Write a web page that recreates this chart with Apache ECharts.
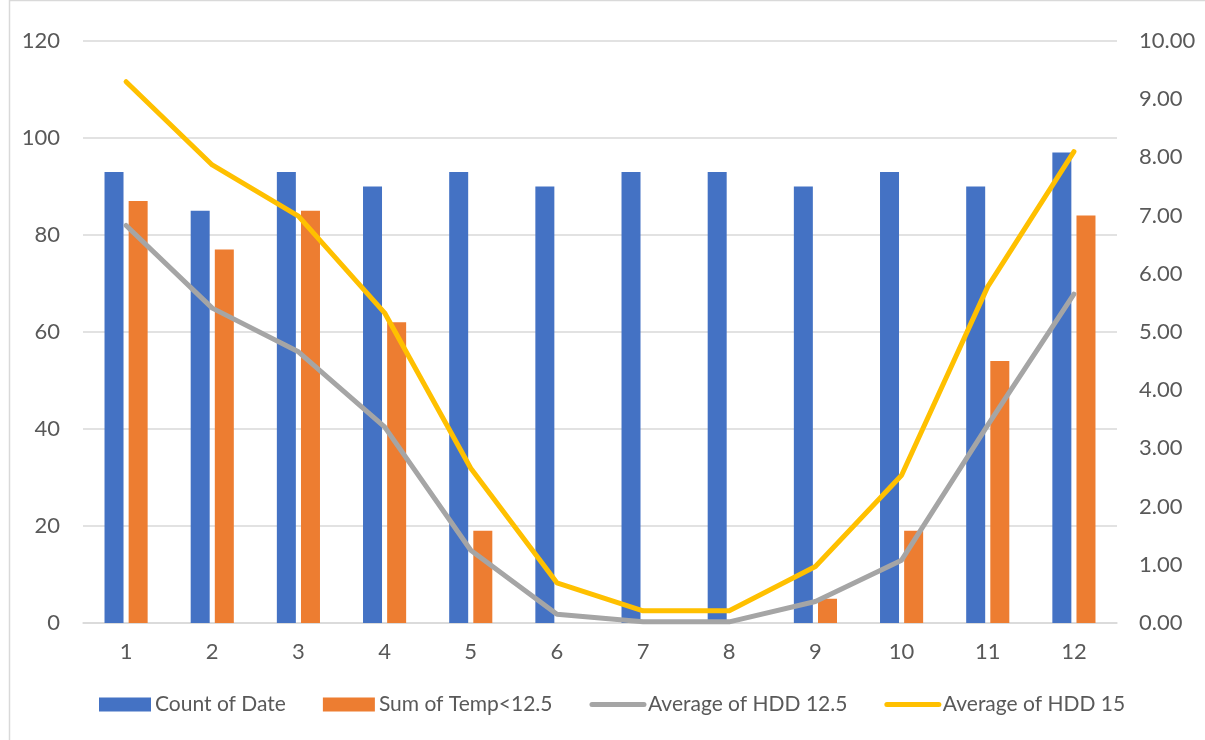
<!DOCTYPE html>
<html>
<head>
<meta charset="utf-8">
<script src="https://cdn.jsdelivr.net/npm/echarts@6/dist/echarts.min.js"></script>
<style>
html,body{margin:0;padding:0;background:#fff;}
#chart{width:1205px;height:740px;}
</style>
</head>
<body>
<div id="chart"></div>
<script>
const months = ['1','2','3','4','5','6','7','8','9','10','11','12'];
const countOfDate = [93, 85, 93, 90, 93, 90, 93, 93, 90, 93, 90, 97];
const sumTempBelow125 = [87, 77, 85, 62, 19, 0, 0, 0, 5, 19, 54, 84];
const avgHdd125 = [6.83, 5.41, 4.66, 3.37, 1.25, 0.15, 0.02, 0.02, 0.37, 1.08, 3.40, 5.65];
const avgHdd15 = [9.30, 7.87, 6.99, 5.33, 2.66, 0.69, 0.21, 0.21, 0.97, 2.54, 5.78, 8.10];
const leftTicks = {min: 0, max: 120, interval: 20};
const rightTicks = {min: 0, max: 10, interval: 1};

const txt = '#595959';
const font = 'Lato';
const fs = 22;
const chart = echarts.init(document.getElementById('chart'));
chart.setOption({
  backgroundColor: '#ffffff',
  animation: false,
  textStyle: {fontFamily: font},
  graphic: [{
    type: 'rect', left: 7, top: -2, silent: true,
    shape: {x: 0, y: 0, width: 1220, height: 760},
    style: {fill: 'none', stroke: '#d9d9d9', lineWidth: 1.5}
  }],
  grid: {left: 83, right: 88, top: 41, bottom: 117, containLabel: false},
  legend: {
    left: 99, top: 694, padding: 0,
    itemWidth: 52, itemHeight: 14, itemGap: 37,
    textStyle: {color: txt, fontSize: 21, fontFamily: font, padding: [0, 0, 0, -1]},
    data: [
      {name: 'Count of Date', icon: 'rect'},
      {name: 'Sum of Temp<12.5', icon: 'rect'},
      {name: 'Average of HDD 12.5', itemStyle: {opacity: 0},
        lineStyle: {width: 5, cap: 'round'}},
      {name: 'Average of HDD 15', itemStyle: {opacity: 0},
        lineStyle: {width: 5, cap: 'round'}}
    ]
  },
  xAxis: {
    type: 'category', data: months,
    axisTick: {show: false},
    axisLine: {lineStyle: {color: '#d9d9d9', width: 1.5}},
    axisLabel: {color: txt, fontSize: fs, fontFamily: font, margin: 18}
  },
  yAxis: [{
    type: 'value', min: leftTicks.min, max: leftTicks.max, interval: leftTicks.interval,
    axisLine: {show: false}, axisTick: {show: false},
    splitLine: {lineStyle: {color: '#d9d9d9', width: 1.5}},
    axisLabel: {color: txt, fontSize: fs, fontFamily: font, margin: 23}
  }, {
    type: 'value', min: rightTicks.min, max: rightTicks.max, interval: rightTicks.interval,
    axisLine: {show: false}, axisTick: {show: false},
    splitLine: {show: false},
    axisLabel: {color: txt, fontSize: fs, fontFamily: font, margin: 22,
      formatter: v => v.toFixed(2)}
  }],
  series: [{
    name: 'Count of Date', type: 'bar', data: countOfDate,
    barWidth: 19, barGap: '27%',
    itemStyle: {color: '#4472C4'}
  }, {
    name: 'Sum of Temp<12.5', type: 'bar', data: sumTempBelow125,
    barWidth: 19,
    itemStyle: {color: '#ED7D31'}
  }, {
    name: 'Average of HDD 12.5', type: 'line', yAxisIndex: 1, data: avgHdd125,
    symbol: 'none', z: 3,
    itemStyle: {color: '#A5A5A5'},
    lineStyle: {color: '#A5A5A5', width: 5, cap: 'round', join: 'round'}
  }, {
    name: 'Average of HDD 15', type: 'line', yAxisIndex: 1, data: avgHdd15,
    symbol: 'none', z: 4,
    itemStyle: {color: '#FFC000'},
    lineStyle: {color: '#FFC000', width: 5, cap: 'round', join: 'round'}
  }]
});
</script>
</body>
</html>
